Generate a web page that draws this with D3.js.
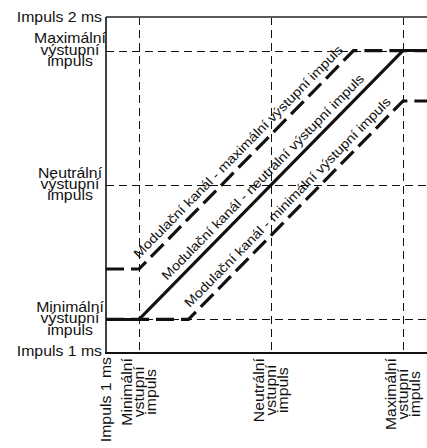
<!DOCTYPE html>
<html><head><meta charset="utf-8">
<script src="https://cdn.jsdelivr.net/npm/d3@7/dist/d3.min.js"></script>
<style>
html,body{margin:0;padding:0;background:#fff;}
svg{display:block;font-family:"Liberation Sans",Arial,sans-serif;}
</style></head>
<body>
<svg id="c" width="427" height="448"></svg>
<script>
// ---- data ----
const domainMs = [1, 2];
const gridX = [1.1, 1.5, 1.9];
const gridY = [1.1, 1.5, 1.9];
const xTickLabels = [["Minimální","vstupní","impuls"],["Neutrální","vstupní","impuls"],["Maximální","vstupní","impuls"]];
const yTickLabels = [["Minimální","výstupní","impuls"],["Neutrální","výstupní","impuls"],["Maximální","výstupní","impuls"]];
const axisEndLabels = ["Impuls 1 ms", "Impuls 2 ms"];
const chNeutral = [[1.0,1.1],[1.1,1.1],[1.9,1.9],[2.0,1.9]];
const chMax     = [[1.0,1.25],[1.1,1.25],[1.75,1.9],[2.0,1.9]];
const chMin     = [[1.0,1.1],[1.25,1.1],[1.9,1.75],[2.0,1.75]];
const chLabels  = ["Modulační kanál - maximální výstupní impuls","Modulační kanál - neutrální výstupní impuls","Modulační kanál - minimální výstupní impuls"];

// ---- chart ----
const svg = d3.select("#c");
const x = d3.scaleLinear().domain(domainMs).range([106, 436]);
const y = d3.scaleLinear().domain(domainMs).range([353, 17]);
const W = 427;
const ink = "#111";
const FS = 14, SX = 1.13;
const crisp = v => Math.round(v) + 0.5;

// grid
svg.selectAll(".gx").data(gridX).join("line")
  .attr("x1", d=>crisp(x(d))).attr("x2", d=>crisp(x(d))).attr("y1", y(2)).attr("y2", y(1))
  .attr("stroke", ink).attr("stroke-width", 1).attr("stroke-dasharray", "8,5");
svg.selectAll(".gy").data(gridY).join("line")
  .attr("y1", d=>crisp(y(d))).attr("y2", d=>crisp(y(d))).attr("x1", x(1)).attr("x2", W)
  .attr("stroke", ink).attr("stroke-width", 1).attr("stroke-dasharray", "8,5");

// frame
svg.append("line").attr("x1", x(1)).attr("x2", W).attr("y1", y(2)).attr("y2", y(2))
  .attr("stroke", "#5a5a5a").attr("stroke-width", 2);
svg.append("line").attr("x1", x(1)).attr("x2", x(1)).attr("y1", y(2)).attr("y2", y(1))
  .attr("stroke", ink).attr("stroke-width", 1.6);
svg.append("line").attr("x1", x(1)-1).attr("x2", W).attr("y1", y(1)).attr("y2", y(1))
  .attr("stroke", ink).attr("stroke-width", 2);

// channels
const line = d3.line().x(d=>x(d[0])).y(d=>y(d[1]));
[chMax, chMin].forEach(ch => {
  svg.append("path").attr("d", line(ch)).attr("fill","none").attr("stroke", ink)
    .attr("stroke-width", 3.2).attr("stroke-dasharray", "18,7");
});
svg.append("path").attr("d", line(chNeutral)).attr("fill","none").attr("stroke", ink)
  .attr("stroke-width", 3);

// channel labels
[chMax, chNeutral, chMin].forEach((ch, i) => {
  const p1 = [x(ch[1][0]), y(ch[1][1])], p2 = [x(ch[2][0]), y(ch[2][1])];
  const mx = (p1[0]+p2[0])/2, my = (p1[1]+p2[1])/2;
  const ang = Math.atan2(p2[1]-p1[1], p2[0]-p1[0]) * 180/Math.PI;
  svg.append("text").attr("transform", `translate(${mx},${my}) rotate(${ang}) scale(${SX},1)`)
    .attr("text-anchor","middle").attr("dy", -7)
    .attr("font-size", 13).attr("fill", ink).text(chLabels[i]);
});

// y tick labels
const lh = 11.2;
yTickLabels.forEach((lines, i) => {
  const t = svg.append("text").attr("text-anchor","middle").attr("font-size", FS).attr("fill", ink)
    .attr("transform", `translate(70,0) scale(${SX},1)`);
  lines.forEach((s, j) => {
    t.append("tspan").attr("x", 0).attr("y", y(gridY[i]) + 4 + (j-1)*lh).text(s);
  });
});
svg.append("text").attr("transform", `translate(102,${y(2)+5}) scale(${SX},1)`).attr("text-anchor","end")
  .attr("font-size", FS).attr("fill", ink).text(axisEndLabels[1]);
svg.append("text").attr("transform", `translate(102,${y(1)+3}) scale(${SX},1)`).attr("text-anchor","end")
  .attr("font-size", FS).attr("fill", ink).text(axisEndLabels[0]);

// x tick labels (rotated)
const xlh = 12;
xTickLabels.forEach((lines, i) => {
  const g = svg.append("g");
  const t = g.append("text").attr("font-size", FS).attr("fill", ink).attr("text-anchor","middle");
  const tsp = lines.map((s, j) => t.append("tspan").attr("x", 0).attr("y", (j-1)*xlh + 5).text(s));
  const maxLen = d3.max(tsp, n => n.node().getComputedTextLength()) * SX;
  g.attr("transform", `translate(${x(gridX[i])},${358 + maxLen/2}) rotate(-90) scale(${SX},1)`);
});
svg.append("text").attr("transform", `translate(${x(1)+5},357) rotate(-90) scale(${SX},1)`)
  .attr("text-anchor","end").attr("font-size", FS).attr("fill", ink).text(axisEndLabels[0]);
</script>
</body></html>
